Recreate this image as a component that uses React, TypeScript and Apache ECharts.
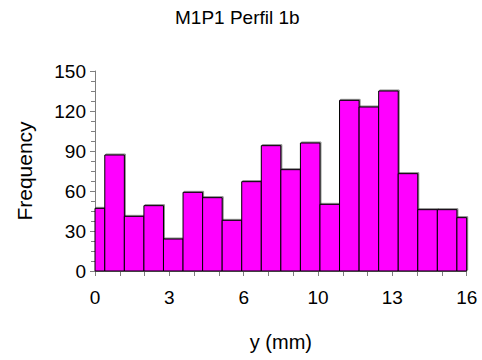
import React, { useEffect, useRef } from "react";
import * as echarts from "echarts";

const title = "M1P1 Perfil 1b";
const xName = "y (mm)";
const yName = "Frequency";
const xMin = 0;
const xMax = 16;
const xTickInterval = 3.2;
const yTicks = [0, 30, 60, 90, 120, 150];
// counts for 20 bins centred at k * 16/19 (end bins half-width)
const counts = [47, 87, 41, 49, 24, 59, 55, 38, 67, 94, 76, 96, 50, 128, 123, 135, 73, 46, 46, 40];

const binWidth = (xMax - xMin) / (counts.length - 1);
const bins = counts.map((c, k) => {
  const centre = xMin + k * binWidth;
  return [Math.max(xMin, centre - binWidth / 2), Math.min(xMax, centre + binWidth / 2), c];
});

export default function App() {
  const ref = useRef<HTMLDivElement>(null);
  useEffect(() => {
    if (!ref.current) return;
    const chart = echarts.init(ref.current, undefined, { renderer: "svg" });
    const font = "Liberation Sans, Arial, sans-serif";
    chart.setOption({
      animation: false,
      textStyle: { fontFamily: font },
      title: {
        text: title,
        left: 170,
        top: 3,
        textStyle: { fontSize: 19, fontWeight: "normal", color: "#000", fontFamily: font },
      },
      grid: { left: 95, right: 15.3, top: 71, bottom: 89 },
      xAxis: {
        type: "value",
        min: xMin,
        max: xMax,
        interval: xTickInterval,
        name: xName,
        nameLocation: "middle",
        nameGap: 61,
        nameTextStyle: { fontSize: 20, color: "#000", fontFamily: font },
        axisLine: { show: true, lineStyle: { color: "#7f7f7f", width: 1 } },
        axisTick: { show: true, length: 5, lineStyle: { color: "#7f7f7f" } },
        minorTick: { show: true, splitNumber: 3, length: 5, lineStyle: { color: "#7f7f7f" } },
        axisLabel: {
          fontSize: 19,
          color: "#000",
          margin: 17,
          fontFamily: font,
          formatter: (v: number) => String(Math.round(v)),
        },
        splitLine: { show: false },
      },
      yAxis: {
        type: "value",
        min: yTicks[0],
        max: yTicks[yTicks.length - 1],
        interval: yTicks[1] - yTicks[0],
        name: yName,
        nameLocation: "middle",
        nameGap: 60,
        nameTextStyle: { fontSize: 21, color: "#000", fontFamily: font },
        axisLine: { show: true, lineStyle: { color: "#7f7f7f", width: 1 } },
        axisTick: { show: true, length: 5, lineStyle: { color: "#7f7f7f" } },
        minorTick: { show: true, splitNumber: 4, length: 4, lineStyle: { color: "#7f7f7f" } },
        axisLabel: { fontSize: 19, color: "#000", margin: 9, fontFamily: font },
        splitLine: { show: false },
      },
      series: [
        {
          type: "custom",
          data: bins,
          encode: { x: [0, 1], y: 2 },
          renderItem: (params: any, api: any) => {
            const p0 = api.coord([api.value(0), 0]);
            const p1 = api.coord([api.value(1), api.value(2)]);
            return {
              type: "rect",
              shape: { x: p0[0], y: p1[1], width: p1[0] - p0[0], height: p0[1] - p1[1] },
              style: {
                fill: "#ff00ff",
                stroke: "#000",
                lineWidth: 1,
                shadowColor: "rgba(0,0,0,0.45)",
                shadowOffsetX: 1,
                shadowOffsetY: -1,
                shadowBlur: 0,
              },
            };
          },
        },
      ],
    });
    return () => chart.dispose();
  }, []);
  return (
    <div
      ref={ref}
      style={{ position: "absolute", left: 0, top: 0, width: 482, height: 360 }}
    />
  );
}
